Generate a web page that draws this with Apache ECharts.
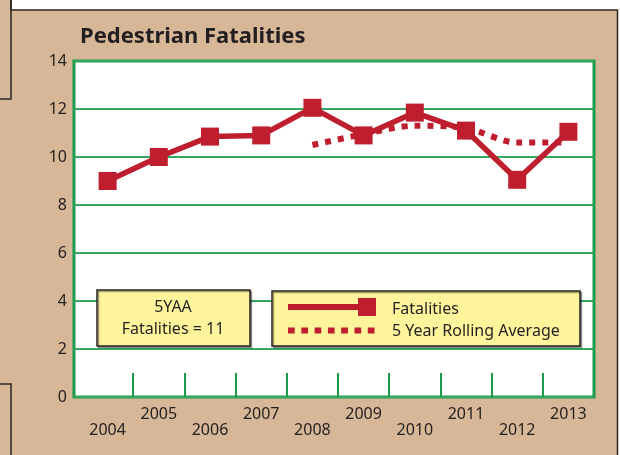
<!DOCTYPE html>
<html>
<head>
<meta charset="utf-8">
<script src="https://cdn.jsdelivr.net/npm/echarts@6/dist/echarts.min.js"></script>
<style>
  html, body { margin: 0; padding: 0; background: #d6b797; }
  #chart { width: 620px; height: 455px; }
</style>
</head>
<body>
<div id="chart"></div>
<script>
// data
var years = ['2004', '2005', '2006', '2007', '2008', '2009', '2010', '2011', '2012', '2013'];
var fatalities = [9, 10, 10.85, 10.9, 12.05, 10.9, 11.85, 11.1, 9.05, 11.05];
var rollingAvg = [null, null, null, null, 10.5, 10.95, 11.3, 11.2, 10.6, 10.6];
var yMin = 0, yMax = 14, yStep = 2;

var red = '#be1e2d';
var green = '#1b9a4b';
var gridGreen = '#35a862';
var ink = '#231f20';
var boxFill = '#fef49c';
var font = '"Noto Sans"';

var myChart = echarts.init(document.getElementById('chart'));

var option = {
    backgroundColor: '#d6b797',
    animation: false,
    title: {
        text: 'Pedestrian Fatalities',
        left: 80,
        top: 26,
        padding: 0,
        textStyle: { fontFamily: font, fontWeight: 'bold', fontSize: 22, color: ink }
    },
    grid: [
        // frame with the horizontal grid lines
        { left: 74, right: 26, top: 61, bottom: 58, show: true, backgroundColor: '#fff', borderColor: green, borderWidth: 3 },
        // data area
        { left: 82, right: 26, top: 61, bottom: 58 }
    ],
    xAxis: [
        { gridIndex: 0, type: 'value', show: false, min: 0, max: 1 },
        {
            gridIndex: 1,
            type: 'category',
            data: years,
            boundaryGap: true,
            axisLine: { show: false },
            axisTick: {
                show: true,
                inside: true,
                length: 24,
                interval: function (i) { return i > 0; },
                lineStyle: { color: green, width: 2 }
            },
            axisLabel: {
                interval: 0,
                margin: 9,
                fontFamily: font,
                fontSize: 16,
                lineHeight: 16,
                color: ink,
                formatter: function (v, i) { return i % 2 === 0 ? '\n' + v : v; }
            }
        }
    ],
    yAxis: [
        {
            gridIndex: 0,
            type: 'value',
            min: yMin, max: yMax, interval: yStep,
            axisLine: { show: false },
            axisTick: { show: false },
            splitLine: { show: true, lineStyle: { color: gridGreen, width: 2 } },
            axisLabel: { margin: 7, fontFamily: font, fontSize: 16, color: ink }
        },
        { gridIndex: 1, type: 'value', min: yMin, max: yMax, interval: yStep, show: false, splitLine: { show: false } }
    ],
    series: [
        {
            name: '5 Year Rolling Average',
            type: 'line',
            xAxisIndex: 1, yAxisIndex: 1,
            data: rollingAvg,
            smooth: 0.3,
            showSymbol: false,
            symbol: 'none',
            lineStyle: { color: red, width: 6, type: [6, 7], cap: 'butt' },
            z: 2
        },
        {
            name: 'Fatalities',
            type: 'line',
            xAxisIndex: 1, yAxisIndex: 1,
            data: fatalities,
            symbol: 'rect',
            symbolSize: 18,
            lineStyle: { color: red, width: 5.5 },
            itemStyle: { color: red },
            z: 3
        }
    ],
    graphic: [
        // page frame
        { type: 'rect', shape: { x: 11, y: 0, width: 607, height: 10 }, style: { fill: '#fff' } },
        { type: 'rect', shape: { x: 618, y: 0, width: 2, height: 455 }, style: { fill: '#fff' } },
        { type: 'polyline', shape: { points: [[11, 0], [11, 10], [617.5, 10], [617.5, 455]] }, style: { stroke: '#2b2522', lineWidth: 1.5, fill: null } },
        { type: 'polyline', shape: { points: [[11, 0], [11, 99], [0, 99]] }, style: { stroke: '#2b2522', lineWidth: 1.5, fill: null } },
        { type: 'polyline', shape: { points: [[0, 384], [11, 384], [11, 455]] }, style: { stroke: '#2b2522', lineWidth: 1.5, fill: null } },
        // 5YAA box
        {
            type: 'rect', z: 10,
            shape: { x: 97, y: 290, width: 153, height: 56 },
            style: { fill: boxFill, stroke: ink, lineWidth: 1.5, shadowColor: 'rgba(0,0,0,0.35)', shadowOffsetX: 1.5, shadowOffsetY: 1.5 }
        },
        { type: 'text', z: 11, x: 173, y: 307.5, style: { text: '5YAA', fill: ink, font: '16px ' + font, textAlign: 'center', textVerticalAlign: 'middle' } },
        { type: 'text', z: 11, x: 173, y: 329, style: { text: 'Fatalities = 11', fill: ink, font: '16px ' + font, textAlign: 'center', textVerticalAlign: 'middle' } },
        // legend box
        {
            type: 'rect', z: 10,
            shape: { x: 272, y: 291, width: 308, height: 55 },
            style: { fill: boxFill, stroke: ink, lineWidth: 1.5, shadowColor: 'rgba(0,0,0,0.35)', shadowOffsetX: 1.5, shadowOffsetY: 1.5 }
        },
        { type: 'line', z: 11, shape: { x1: 288, y1: 307, x2: 360, y2: 307 }, style: { stroke: red, lineWidth: 6 } },
        { type: 'rect', z: 11, shape: { x: 358, y: 298, width: 18, height: 18 }, style: { fill: red } },
        { type: 'line', z: 11, shape: { x1: 288, y1: 330.5, x2: 376, y2: 330.5 }, style: { stroke: red, lineWidth: 6, lineDash: [6.7, 6.6] } },
        { type: 'text', z: 11, x: 392, y: 309, style: { text: 'Fatalities', fill: ink, font: '16px ' + font, textVerticalAlign: 'middle' } },
        { type: 'text', z: 11, x: 392, y: 331, style: { text: '5 Year Rolling Average', fill: ink, font: '16px ' + font, textVerticalAlign: 'middle' } }
    ]
};

myChart.setOption(option);
</script>
</body>
</html>
